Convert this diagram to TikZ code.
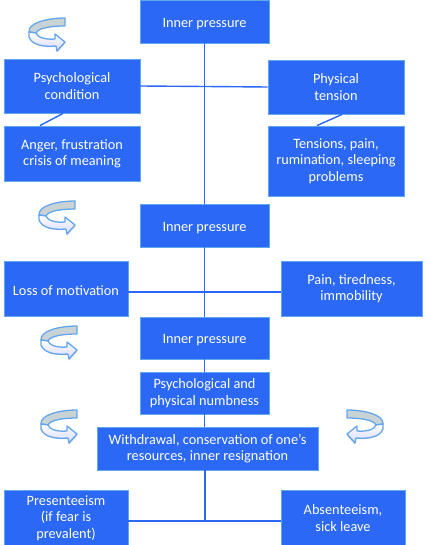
\documentclass[tikz,border=0pt]{standalone}
\usepackage{fontspec}
\setmainfont{Carlito}
\usepackage{tikz}
\usetikzlibrary{shadows,calc}
\usepackage{xcolor}
\definecolor{boxblue}{HTML}{2B68F5}
\definecolor{rimblue}{HTML}{62A6EE}
\definecolor{bandgrey}{HTML}{C9D3D6}
\tikzset{
  bluebox/.style={draw=rimblue, line width=0.9pt, fill=boxblue, text=white, align=center,
    font=\fontsize{14.3}{16.4}\selectfont, inner sep=0pt,
    execute at begin node={\rule{0pt}{13.5pt}},
    drop shadow={shadow xshift=0.6pt, shadow yshift=-1pt, opacity=0.3, fill=black}},
  link/.style={draw=boxblue, line width=1.4pt}
}
\newcommand{\spinarrow}[3]{%
  \begin{scope}[shift={(#1,#2)},xscale=#3,draw=rimblue,line width=1.3pt,line join=round]
    \fill[black,opacity=0.12] (1,16) .. controls (3,28) and (14,30) .. (27,29) -- (28,35) -- (37,25) -- (30,28) -- cycle;
    \draw[fill=bandgrey] (36,0) -- (36,8) .. controls (22,8) and (9,10) .. (7,15)
      -- (0,14) .. controls (-1,5) and (18,0) .. (36,0) -- cycle;
    \draw[top color=white,bottom color=blue!15] (0,14) -- (0,19) .. controls (3,27) and (14,29) .. (27,28)
      -- (28,33) -- (36,24) -- (26,16) -- (26,21) .. controls (16,22) and (8,19) .. (7,15) -- cycle;
  \end{scope}}

\begin{document}
\begin{tikzpicture}[x=1pt,y=-1pt]
  \useasboundingbox (0,0) rectangle (427,545);
  % boxes
  \node[bluebox, minimum width=129pt, minimum height=43pt] (inner1) at (204.5,21.5) {Inner pressure};
  \node[bluebox, minimum width=136pt, minimum height=54pt] (psych) at (72,86) {Psychological\\condition};
  \node[bluebox, minimum width=136pt, minimum height=55pt] (anger) at (72,153.5) {Anger, frustration\\crisis of meaning};
  \node[bluebox, minimum width=136pt, minimum height=54pt] (phys) at (336,87) {Physical\\tension};
  \node[bluebox, minimum width=136pt, minimum height=70pt] (tens) at (336,161) {Tensions, pain,\\rumination, sleeping\\problems};
  \node[bluebox, minimum width=129pt, minimum height=43pt] (inner2) at (204.5,225.5) {Inner pressure};
  \node[bluebox, minimum width=124pt, minimum height=55pt] (loss) at (66,288.5) {Loss of motivation};
  \node[bluebox, minimum width=141pt, minimum height=55pt] (pain) at (351.5,288.5) {Pain, tiredness,\\immobility};
  \node[bluebox, minimum width=129pt, minimum height=42pt] (inner3) at (204.5,338) {Inner pressure};
  \node[bluebox, minimum width=129pt, minimum height=42pt] (numb) at (204.5,393) {Psychological and\\physical numbness};
  \node[bluebox, minimum width=221pt, minimum height=43pt] (withdraw) at (207.5,448.5) {Withdrawal, conservation of one’s\\resources, inner resignation};
  \node[bluebox, minimum width=124pt, minimum height=56pt] (pres) at (66,518) {Presenteeism\\(if fear is\\prevalent)};
  \node[bluebox, minimum width=124pt, minimum height=56pt] (abs) at (343,518) {Absenteeism,\\sick leave};
  % joins on the trunk
  \coordinate (join1) at (205,86.5);
  \coordinate (join2) at (205,292);
  \coordinate (join3) at (205,521);
  % connectors
  \draw[link] (inner1.south) -- (inner2.north);
  \draw[link] (psych.east) -- (join1) -- (phys.west);
  \draw[link] ([xshift=-9pt]psych.south) -- ([xshift=-32pt]anger.north);
  \draw[link] ([xshift=6pt]phys.south) -- ([xshift=-19pt]tens.north);
  \draw[link] (inner2.south) -- (inner3.north);
  \draw[link] (loss.east |- join2) -- (join2) -- (pain.west |- join2);
  \draw[link] (inner3.south) -- (numb.north);
  \draw[link] (numb.south) -- (numb.south |- withdraw.north);
  \draw[link] (join3 |- withdraw.south) -- (join3);
  \draw[link] (pres.east |- join3) -- (join3) -- (abs.west |- join3);
  % loop arrows
  \spinarrow{29}{18}{1}
  \spinarrow{39}{201}{1}
  \spinarrow{41}{326}{1}
  \spinarrow{41}{410}{1}
  \spinarrow{383}{410}{-1}
\end{tikzpicture}
\end{document}
